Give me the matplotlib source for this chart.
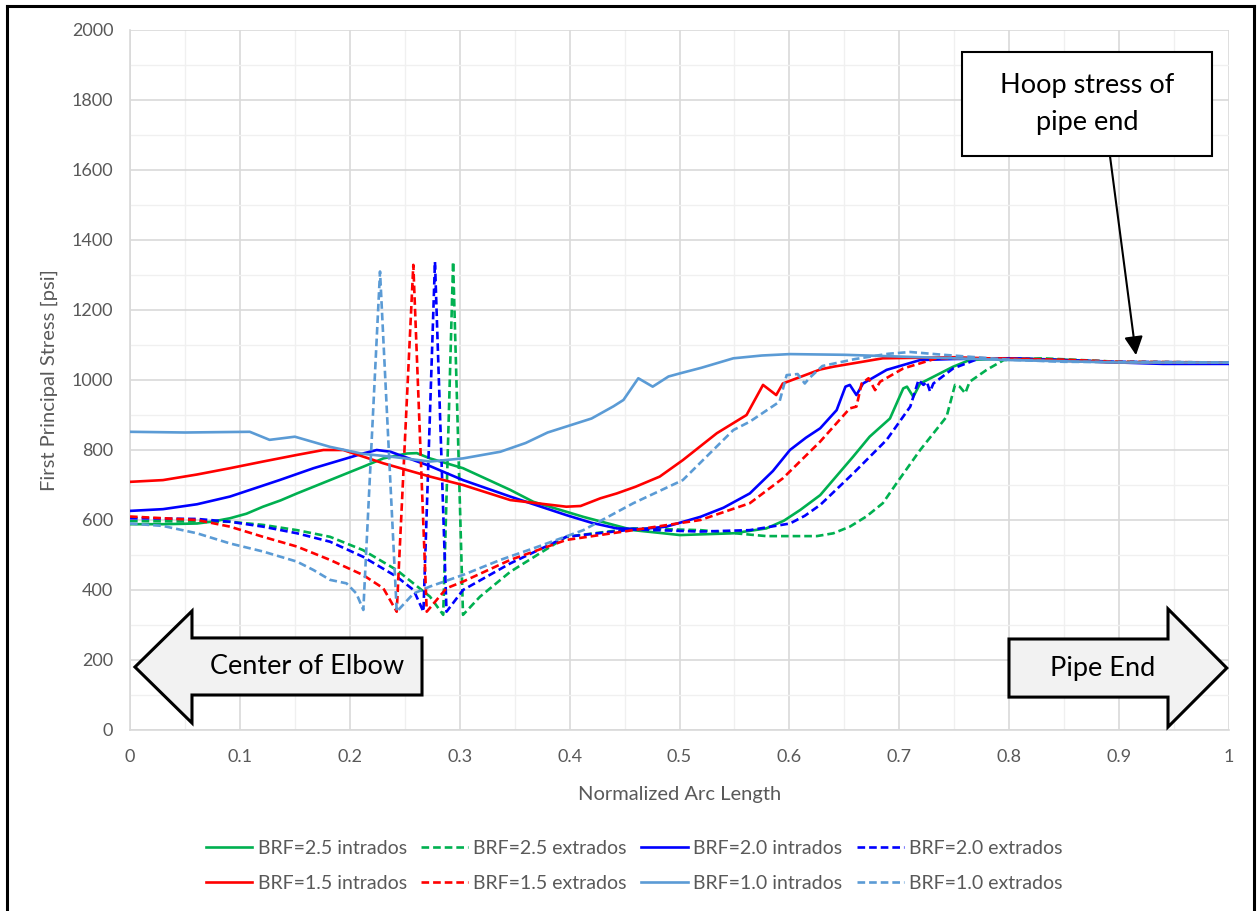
import matplotlib
matplotlib.use("Agg")
import matplotlib.pyplot as plt
from matplotlib.patches import Polygon, Rectangle
from matplotlib.lines import Line2D
from matplotlib.ticker import MultipleLocator, FuncFormatter

plt.rcParams['font.family'] = ['Lato', 'DejaVu Sans']

# ---------------- data ----------------
brf25_in_x = [0, 0.03, 0.061, 0.076, 0.091, 0.106, 0.121, 0.137, 0.152, 0.167, 0.182, 0.197, 0.212, 0.2305, 0.252,
              0.261, 0.273, 0.303, 0.346, 0.367, 0.4125, 0.458, 0.5005, 0.549, 0.579, 0.595, 0.61, 0.628, 0.658,
              0.673, 0.6915, 0.7036, 0.707, 0.7127, 0.719, 0.749, 0.764, 0.8, 0.85, 0.9, 1.0]
brf25_in_y = [588, 588, 590, 596, 605, 618, 638, 656, 676, 695, 714, 733, 752, 776, 790,
              791, 776, 748, 686, 652, 609, 571, 557, 562, 576, 598, 629, 671, 781,
              838, 890, 976, 981, 952, 990, 1038, 1057, 1062, 1058, 1050, 1050]

brf25_ex_x = [0, 0.091, 0.121, 0.152, 0.182, 0.212, 0.2427, 0.273, 0.285, 0.294, 0.303, 0.3185, 0.346, 0.397,
              0.458, 0.519, 0.579, 0.625, 0.64, 0.655, 0.67, 0.685, 0.6975, 0.719, 0.743, 0.7507, 0.755, 0.76,
              0.764, 0.7795, 0.795, 0.83, 0.9, 1.0]
brf25_ex_y = [597, 595, 586, 571, 552, 514, 457, 381, 329, 1338, 329, 381, 452, 552,
              576, 571, 554, 554, 562, 581, 610, 648, 705, 800, 895, 986, 981, 962,
              995, 1029, 1057, 1062, 1052, 1050]

brf20_in_x = [0, 0.03, 0.061, 0.091, 0.136, 0.167, 0.212, 0.2245, 0.237, 0.273, 0.303, 0.346, 0.397, 0.42, 0.443,
              0.465, 0.488, 0.519, 0.54, 0.564, 0.585, 0.6005, 0.615, 0.628, 0.643, 0.651, 0.655, 0.661, 0.667,
              0.6885, 0.719, 0.75, 0.8, 0.9, 0.94, 1.0]
brf20_in_y = [626, 631, 645, 667, 714, 748, 790, 800, 795, 754, 714, 667, 614, 592, 576,
              574, 581, 609, 635, 676, 740, 800, 835, 862, 914, 981, 986, 957, 990,
              1029, 1057, 1060, 1062, 1050, 1046, 1046]

brf20_ex_x = [0, 0.061, 0.091, 0.121, 0.152, 0.182, 0.212, 0.2427, 0.258, 0.267, 0.2775, 0.288, 0.303, 0.346,
              0.397, 0.458, 0.519, 0.564, 0.6005, 0.614, 0.628, 0.658, 0.6885, 0.71, 0.7175, 0.722, 0.725,
              0.728, 0.731, 0.749, 0.773, 0.8, 0.9, 1.0]
brf20_ex_y = [605, 603, 595, 581, 562, 538, 495, 438, 400, 338, 1338, 338, 400, 476,
              552, 573, 567, 571, 590, 612, 643, 733, 829, 924, 1000, 986, 995,
              967, 990, 1033, 1062, 1062, 1052, 1050]

brf15_in_x = [0, 0.03, 0.061, 0.091, 0.121, 0.152, 0.176, 0.194, 0.2305, 0.273, 0.303, 0.346, 0.397, 0.41,
              0.428, 0.443, 0.46, 0.482, 0.503, 0.534, 0.561, 0.576, 0.588, 0.594, 0.628, 0.64, 0.685, 0.75,
              0.8, 0.85, 0.9, 1.0]
brf15_in_y = [709, 714, 730, 748, 767, 786, 800, 800, 762, 724, 700, 657, 638, 640,
              662, 676, 695, 724, 771, 848, 900, 986, 957, 990, 1030, 1038, 1062, 1065,
              1060, 1055, 1050, 1050]

brf15_ex_x = [0, 0.061, 0.091, 0.121, 0.152, 0.182, 0.212, 0.2305, 0.2427, 0.2578, 0.27, 0.288, 0.303, 0.346,
              0.397, 0.458, 0.519, 0.564, 0.594, 0.628, 0.655, 0.661, 0.6657, 0.672, 0.678, 0.6825, 0.7036,
              0.734, 0.78, 0.85, 0.9, 1.0]
brf15_ex_y = [610, 600, 581, 552, 524, 486, 443, 405, 338, 1329, 338, 405, 424, 486,
              543, 571, 600, 648, 719, 824, 919, 924, 990, 1005, 971, 995, 1033,
              1062, 1062, 1058, 1052, 1050]

brf10_in_x = [0, 0.05, 0.109, 0.127, 0.150, 0.182, 0.212, 0.24, 0.273, 0.303, 0.337, 0.36, 0.38, 0.40, 0.42,
              0.44, 0.449, 0.4625, 0.4756, 0.49, 0.5005, 0.52, 0.549, 0.575, 0.6005, 0.65, 0.7, 0.75, 0.8,
              0.9, 1.0]
brf10_in_y = [852, 850, 852, 829, 838, 809, 789, 780, 767, 776, 795, 820, 850, 870, 890,
              925, 943, 1005, 981, 1010, 1019, 1035, 1062, 1070, 1074, 1072, 1067, 1062, 1057,
              1050, 1050]

brf10_ex_x = [0, 0.03, 0.061, 0.091, 0.121, 0.152, 0.167, 0.182, 0.197, 0.206, 0.2123, 0.2275, 0.2427, 0.258,
              0.273, 0.303, 0.337, 0.367, 0.4125, 0.458, 0.503, 0.549, 0.564, 0.591, 0.5975, 0.6075, 0.614,
              0.618, 0.63, 0.66, 0.69, 0.71, 0.74, 0.77, 0.8, 0.85, 1.0]
brf10_ex_y = [590, 583, 562, 533, 510, 481, 457, 429, 419, 390, 343, 1310, 338, 390,
              410, 443, 486, 519, 571, 648, 714, 857, 881, 938, 1014, 1017, 990,
              1005, 1040, 1060, 1075, 1080, 1072, 1065, 1058, 1052, 1050]

series_labels = ["BRF=2.5 intrados", "BRF=2.5 extrados", "BRF=2.0 intrados", "BRF=2.0 extrados",
                 "BRF=1.5 intrados", "BRF=1.5 extrados", "BRF=1.0 intrados", "BRF=1.0 extrados"]
x_ticks = [0, 0.1, 0.2, 0.3, 0.4, 0.5, 0.6, 0.7, 0.8, 0.9, 1.0]
y_ticks = [0, 200, 400, 600, 800, 1000, 1200, 1400, 1600, 1800, 2000]

# ---------------- figure ----------------
W, H = 1257, 911
fig = plt.figure(figsize=(W / 100, H / 100), dpi=100)
ax = fig.add_axes([130 / W, 1 - 730 / H, (1229 - 130) / W, (730 - 30) / H])

GREEN, BLUE, RED, LBLUE = '#00B050', '#0000FF', '#FF0000', '#5B9BD5'
lw = 1.9
dash = (0, (2.9, 1.5))
series = [
    (brf25_in_x, brf25_in_y, GREEN, '-'),
    (brf25_ex_x, brf25_ex_y, GREEN, dash),
    (brf20_in_x, brf20_in_y, BLUE, '-'),
    (brf20_ex_x, brf20_ex_y, BLUE, dash),
    (brf15_in_x, brf15_in_y, RED, '-'),
    (brf15_ex_x, brf15_ex_y, RED, dash),
    (brf10_in_x, brf10_in_y, LBLUE, '-'),
    (brf10_ex_x, brf10_ex_y, LBLUE, dash),
]
handles = []
for (xs, ys, c, ls), lab in zip(series, series_labels):
    h, = ax.plot(xs, ys, color=c, linestyle=ls, linewidth=lw, label=lab, zorder=3)
    handles.append(h)

ax.set_xlim(0, 1)
ax.set_ylim(0, 2000)
ax.set_xticks(x_ticks)
ax.set_yticks(y_ticks)
ax.xaxis.set_major_formatter(FuncFormatter(lambda v, p: ('%g' % v)))
ax.xaxis.set_minor_locator(MultipleLocator(0.05))
ax.yaxis.set_minor_locator(MultipleLocator(100))
ax.grid(which='major', color='#D9D9D9', linewidth=1.2, zorder=0)
ax.grid(which='minor', color='#F0F0F0', linewidth=1.0, zorder=0)
ax.set_axisbelow(True)
ax.tick_params(which='both', length=0)
ax.tick_params(axis='x', pad=14, labelsize=13, labelcolor='#595959')
ax.tick_params(axis='y', pad=12, labelsize=13, labelcolor='#595959')
for s in ['top', 'right']:
    ax.spines[s].set_visible(False)
for s in ['left', 'bottom']:
    ax.spines[s].set_color('#D9D9D9')
    ax.spines[s].set_linewidth(1.2)

ax.set_xlabel("Normalized Arc Length", fontsize=14.5, color='#595959', labelpad=15)
ax.set_ylabel("First Principal Stress [psi]", fontsize=14.5, color='#595959', labelpad=10)

# legend (row-wise order like the reference)
order = [0, 4, 1, 5, 2, 6, 3, 7]
leg = fig.legend(handles=[handles[i] for i in order], labels=[series_labels[i] for i in order],
                 ncol=4, loc='center', bbox_to_anchor=(634 / W, 1 - 866 / H), frameon=False,
                 fontsize=14, handlelength=2.4, handletextpad=0.27, columnspacing=0.75,
                 labelspacing=0.95)
for t in leg.get_texts():
    t.set_color('#595959')

# annotation shapes (data coordinates)
fill = '#F2F2F2'
left_arrow = Polygon([(0.0045, 180), (0.0564, 340), (0.0564, 263), (0.2657, 263),
                      (0.2657, 100), (0.0564, 100), (0.0564, 20)], closed=True,
                     facecolor=fill, edgecolor='black', linewidth=2.2, zorder=5, clip_on=False)
ax.add_patch(left_arrow)
ax.text(0.161, 180, "Center of Elbow", fontsize=19.5, ha='center', va='center', zorder=6)

right_arrow = Polygon([(0.7998, 260), (0.9445, 260), (0.9445, 346), (0.998, 177),
                       (0.9445, 8.6), (0.9445, 94), (0.7998, 94)], closed=True,
                      facecolor=fill, edgecolor='black', linewidth=2.2, zorder=5, clip_on=False)
ax.add_patch(right_arrow)
ax.text(0.8854, 177, "Pipe End", fontsize=19.5, ha='center', va='center', zorder=6)

box = Rectangle((0.757, 1640), 0.2275, 297, facecolor='white', edgecolor='black',
                linewidth=1.5, zorder=5, clip_on=False)
ax.add_patch(box)
ax.text(0.8708, 1789, "Hoop stress of\npipe end", fontsize=19.5, ha='center', va='center',
        linespacing=1.6, zorder=6)
ax.annotate("", xy=(0.9154, 1071), xytext=(0.8917, 1640),
            arrowprops=dict(arrowstyle='-|>', color='black', lw=1.5, mutation_scale=28,
                            shrinkA=0, shrinkB=0), zorder=6)

# outer border (left, top, right)
yt = 1 - 5.5 / H
for (x0, y0, x1, y1) in [(6.5 / W, -0.01, 6.5 / W, yt), (6.5 / W, yt, 1253.5 / W, yt),
                         (1253.5 / W, yt, 1253.5 / W, -0.01)]:
    fig.add_artist(Line2D([x0, x1], [y0, y1], color='black', linewidth=2.2))

fig.savefig("out.png", dpi=100)
